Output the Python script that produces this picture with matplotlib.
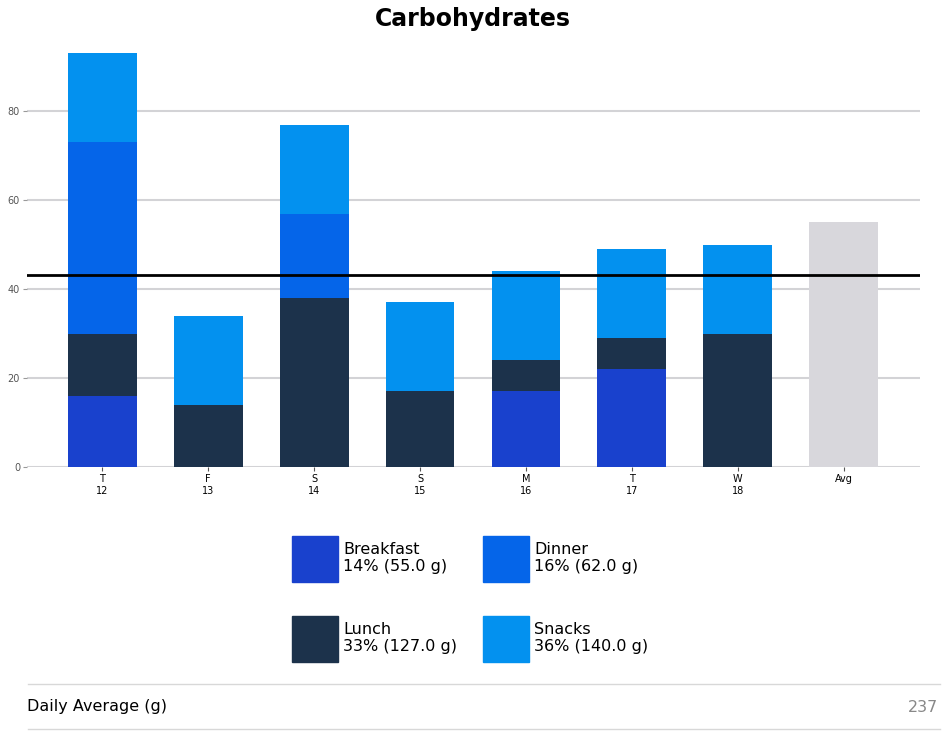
import matplotlib.pyplot as plt
from matplotlib.patches import Rectangle
from matplotlib.lines import Line2D
import numpy as np

days = ["T\n12", "F\n13", "S\n14", "S\n15", "M\n16", "T\n17", "W\n18"]
meals = ["Breakfast", "Dinner", "Lunch", "Snacks"]
breakfast = [16, 0, 0, 0, 17, 22, 0]
lunch = [14, 14, 38, 17, 7, 7, 30]
dinner = [43, 0, 19, 0, 0, 0, 0]
snacks = [20, 20, 20, 20, 20, 20, 20]
avg_bar = 55
avg_line = 43.1
daily_avg = 237

colors = {"Breakfast": "#1941cd", "Lunch": "#1c324b", "Dinner": "#0565e9", "Snacks": "#0391ef"}

fig = plt.figure(figsize=(9.48, 7.45), dpi=100)
ax = fig.add_axes([0.0285, 0.3732, 0.942, 0.573])

x = np.arange(len(days))
w = 0.65
bottom = np.zeros(len(days))
for name, vals in [("Breakfast", breakfast), ("Lunch", lunch), ("Dinner", dinner), ("Snacks", snacks)]:
    vals = np.array(vals)
    ax.bar(x, vals, w, bottom=bottom, color=colors[name], zorder=3)
    bottom += vals
ax.bar(len(days), avg_bar, w, color="#d8d7dc", zorder=3)
ax.axhline(avg_line, color="black", lw=2, zorder=4)

ax.set_xlim(-0.71, 7.72)
ax.set_ylim(0, 96)
ax.set_yticks([0, 20, 40, 60, 80])
ax.set_xticks(list(x) + [len(days)])
ax.set_xticklabels(days + ["Avg"], fontsize=7)
ax.tick_params(axis="y", labelsize=7, labelcolor="#555555", length=3, color="#999999", pad=2)
ax.tick_params(axis="x", length=3, color="#555555", pad=2)
ax.grid(axis="y", color="#d3d3d6", lw=1.5, zorder=0)
ax.axhline(0, color="#d3d3d6", lw=2, zorder=2)
for s in ax.spines.values():
    s.set_visible(False)

fig.text(0.499, 0.975, "Carbohydrates", ha="center", va="center", fontsize=17, fontweight="bold")

# legend with totals
totals = {"Breakfast": sum(breakfast), "Lunch": sum(lunch), "Dinner": sum(dinner), "Snacks": sum(snacks)}
grand = sum(totals.values())
W, H = 948, 745
pos = {"Breakfast": (292, 536), "Dinner": (483, 536), "Lunch": (292, 616), "Snacks": (483, 616)}
for name in meals:
    px, py = pos[name]
    fig.add_artist(Rectangle((px / W, 1 - (py + 46) / H), 46 / W, 46 / H,
                             transform=fig.transFigure, color=colors[name]))
    pct = round(100 * totals[name] / grand)
    fig.text((px + 51) / W, 1 - (py + 22) / H, f"{name}\n{pct}% ({totals[name]:.1f} g)",
             ha="left", va="center", fontsize=11.5, linespacing=1.1)

# footer
for yy in [684, 729]:
    fig.add_artist(Line2D([28 / W, 940 / W], [1 - yy / H, 1 - yy / H],
                          transform=fig.transFigure, color="#d8d8d8", lw=1))
fig.text(27 / W, 1 - 707 / H, "Daily Average (g)", ha="left", va="center", fontsize=11.5)
fig.text(938 / W, 1 - 707 / H, str(daily_avg), ha="right", va="center", fontsize=11.5, color="#888888")

fig.savefig("out.png", dpi=100)
